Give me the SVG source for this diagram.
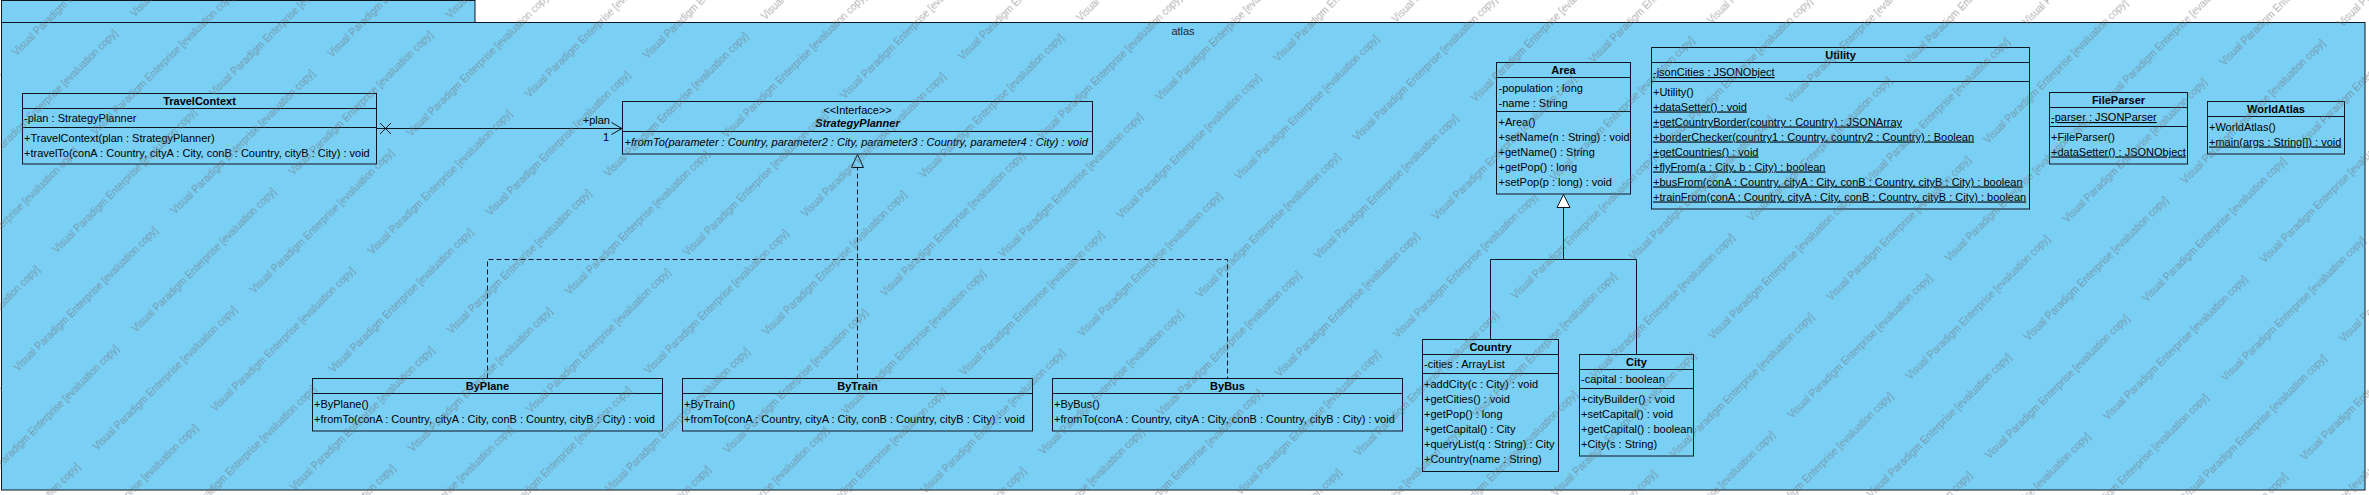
<svg xmlns="http://www.w3.org/2000/svg" width="2369" height="495" viewBox="0 0 2369 495">
<style>
.bx{fill:#7ACFF5;stroke:#0e1620;stroke-width:1}
.ln{fill:none;stroke:#0e1620;stroke-width:1}
.dl{fill:none;stroke:#0e1620;stroke-width:1;stroke-dasharray:5 3}
.t{font-family:"Liberation Sans",Arial,sans-serif;font-size:11px;fill:#000}
.c{text-anchor:middle}
.b{font-weight:bold}
.i{font-style:italic}
.u{text-decoration:underline}
.pk{font-family:"Liberation Sans",Arial,sans-serif;font-size:11px;fill:#1b2733;text-anchor:middle}
.wm{font-family:"Liberation Sans",Arial,sans-serif;font-size:10px;fill:#6a6a6a;fill-opacity:0.55}
</style>
<defs>
<pattern id="wm" patternUnits="userSpaceOnUse" width="222" height="112" patternTransform="translate(1935,248) rotate(-45)">
<text class="wm" x="0" y="20">Visual Paradigm Enterprise [evaluation copy]</text>
<text class="wm" x="111" y="76">Visual Paradigm Enterprise [evaluation copy]</text>
<text class="wm" x="-111" y="76">Visual Paradigm Enterprise [evaluation copy]</text>
</pattern>
</defs>
<rect x="0" y="0" width="2369" height="495" fill="#ffffff"/>
<g id="pkg-atlas">
<rect class="bx" x="1.5" y="0.5" width="473.5" height="22"/>
<rect class="bx" x="1.5" y="22.5" width="2363.5" height="467.5"/>
<text class="pk" x="1183" y="34.5">atlas</text>
</g>
<g id="TravelContext">
<rect class="bx" x="22.5" y="93.5" width="354" height="70.5"/>
<path class="ln" d="M22.5 108.5H376.5M22.5 127.5H376.5"/>
<text class="t c b" x="199.5" y="104.5">TravelContext</text>
<text class="t" x="24" y="122">-plan : StrategyPlanner</text>
<text class="t" x="24" y="141.5">+TravelContext(plan : StrategyPlanner)</text>
<text class="t" x="24" y="156.5">+travelTo(conA : Country, cityA : City, conB : Country, cityB : City) : void</text>
</g>
<g id="StrategyPlanner">
<rect class="bx" x="622.5" y="101.5" width="470" height="52.5"/>
<path class="ln" d="M622.5 131.5H1092.5"/>
<text class="t c" x="857.5" y="113.5">&lt;&lt;Interface&gt;&gt;</text>
<text class="t c b i" x="857.5" y="127">StrategyPlanner</text>
<text class="t i" x="624.5" y="145.5">+fromTo(parameter : Country, parameter2 : City, parameter3 : Country, parameter4 : City) : void</text>
</g>
<g id="Area">
<rect class="bx" x="1496.5" y="62.5" width="134" height="131.5"/>
<path class="ln" d="M1496.5 77.5H1630.5M1496.5 111.5H1630.5"/>
<text class="t c b" x="1563.5" y="73.5">Area</text>
<text class="t" x="1498.5" y="91.5">-population : long</text>
<text class="t" x="1498.5" y="106.5">-name : String</text>
<text class="t" x="1498.5" y="125.5">+Area()</text>
<text class="t" x="1498.5" y="140.5">+setName(n : String) : void</text>
<text class="t" x="1498.5" y="155.5">+getName() : String</text>
<text class="t" x="1498.5" y="170.5">+getPop() : long</text>
<text class="t" x="1498.5" y="185.5">+setPop(p : long) : void</text>
</g>
<g id="Utility">
<rect class="bx" x="1651.5" y="47.5" width="378" height="161.5"/>
<path class="ln" d="M1651.5 62.5H2029.5M1651.5 81.5H2029.5"/>
<text class="t c b" x="1840.5" y="58.5">Utility</text>
<text class="t u" x="1653" y="76">-jsonCities : JSONObject</text>
<text class="t" x="1653" y="95.5">+Utility()</text>
<text class="t u" x="1653" y="110.5">+dataSetter() : void</text>
<text class="t u" x="1653" y="125.5">+getCountryBorder(country : Country) : JSONArray</text>
<text class="t u" x="1653" y="140.5">+borderChecker(country1 : Country, country2 : Country) : Boolean</text>
<text class="t u" x="1653" y="155.5">+getCountries() : void</text>
<text class="t u" x="1653" y="170.5">+flyFrom(a : City, b : City) : boolean</text>
<text class="t u" x="1653" y="185.5">+busFrom(conA : Country, cityA : City, conB : Country, cityB : City) : boolean</text>
<text class="t u" x="1653" y="200.5">+trainFrom(conA : Country, cityA : City, conB : Country, cityB : City) : boolean</text>
</g>
<g id="FileParser">
<rect class="bx" x="2049.5" y="92.5" width="138" height="71.5"/>
<path class="ln" d="M2049.5 107.5H2187.5M2049.5 126.5H2187.5"/>
<text class="t c b" x="2118.5" y="103.5">FileParser</text>
<text class="t u" x="2051" y="121">-parser : JSONParser</text>
<text class="t" x="2051" y="140.5">+FileParser()</text>
<text class="t u" x="2051" y="155.5">+dataSetter() : JSONObject</text>
</g>
<g id="WorldAtlas">
<rect class="bx" x="2207.5" y="101.5" width="137" height="52.5"/>
<path class="ln" d="M2207.5 116.5H2344.5"/>
<text class="t c b" x="2276" y="113">WorldAtlas</text>
<text class="t" x="2209" y="130.5">+WorldAtlas()</text>
<text class="t u" x="2209" y="145.5">+main(args : String[]) : void</text>
</g>
<g id="Country">
<rect class="bx" x="1422.5" y="339.5" width="136" height="132"/>
<path class="ln" d="M1422.5 354.5H1558.5M1422.5 373.5H1558.5"/>
<text class="t c b" x="1490.5" y="350.5">Country</text>
<text class="t" x="1424" y="368">-cities : ArrayList</text>
<text class="t" x="1424" y="387.5">+addCity(c : City) : void</text>
<text class="t" x="1424" y="402.5">+getCities() : void</text>
<text class="t" x="1424" y="417.5">+getPop() : long</text>
<text class="t" x="1424" y="432.5">+getCapital() : City</text>
<text class="t" x="1424" y="447.5">+queryList(q : String) : City</text>
<text class="t" x="1424" y="462.5">+Country(name : String)</text>
</g>
<g id="City">
<rect class="bx" x="1579.5" y="354.5" width="114" height="101.5"/>
<path class="ln" d="M1579.5 369.5H1693.5M1579.5 388.5H1693.5"/>
<text class="t c b" x="1636.5" y="365.5">City</text>
<text class="t" x="1581" y="383">-capital : boolean</text>
<text class="t" x="1581" y="402.5">+cityBuilder() : void</text>
<text class="t" x="1581" y="417.5">+setCapital() : void</text>
<text class="t" x="1581" y="432.5">+getCapital() : boolean</text>
<text class="t" x="1581" y="447.5">+City(s : String)</text>
</g>
<g id="ByPlane">
<rect class="bx" x="312.5" y="378.5" width="350" height="52.5"/>
<path class="ln" d="M312.5 393.5H662.5"/>
<text class="t c b" x="487.5" y="389.5">ByPlane</text>
<text class="t" x="314" y="407.5">+ByPlane()</text>
<text class="t" x="314" y="422.5">+fromTo(conA : Country, cityA : City, conB : Country, cityB : City) : void</text>
</g>
<g id="ByTrain">
<rect class="bx" x="682.5" y="378.5" width="350" height="52.5"/>
<path class="ln" d="M682.5 393.5H1032.5"/>
<text class="t c b" x="857.5" y="389.5">ByTrain</text>
<text class="t" x="684" y="407.5">+ByTrain()</text>
<text class="t" x="684" y="422.5">+fromTo(conA : Country, cityA : City, conB : Country, cityB : City) : void</text>
</g>
<g id="ByBus">
<rect class="bx" x="1052.5" y="378.5" width="350" height="52.5"/>
<path class="ln" d="M1052.5 393.5H1402.5"/>
<text class="t c b" x="1227.5" y="389.5">ByBus</text>
<text class="t" x="1054" y="407.5">+ByBus()</text>
<text class="t" x="1054" y="422.5">+fromTo(conA : Country, cityA : City, conB : Country, cityB : City) : void</text>
</g>
<g id="connectors">
<path class="ln" d="M376.5 128.5H622"/>
<path class="ln" d="M380 123L391 134M380 134L391 123"/>
<path class="ln" d="M611.5 122.5L622 128.5L611.5 134.5"/>
<text class="t" x="610" y="124" text-anchor="end">+plan</text>
<text class="t c" x="606" y="141">1</text>
<path class="dl" d="M487.5 378.5V259.5H1227.5V378.5M857.5 378.5V167.5"/>
<polygon class="ln" points="857.5,154.5 851.5,167.5 863.5,167.5"/>
<path class="ln" d="M1490.5 339.5V259.5H1636.5V354.5M1563.5 259.5V207.5"/>
<polygon class="ln" style="fill:#ffffff" points="1563.5,194.5 1557,207.5 1570,207.5"/>
</g>
<rect id="watermark" x="0" y="0" width="2369" height="495" fill="url(#wm)"/>
</svg>
